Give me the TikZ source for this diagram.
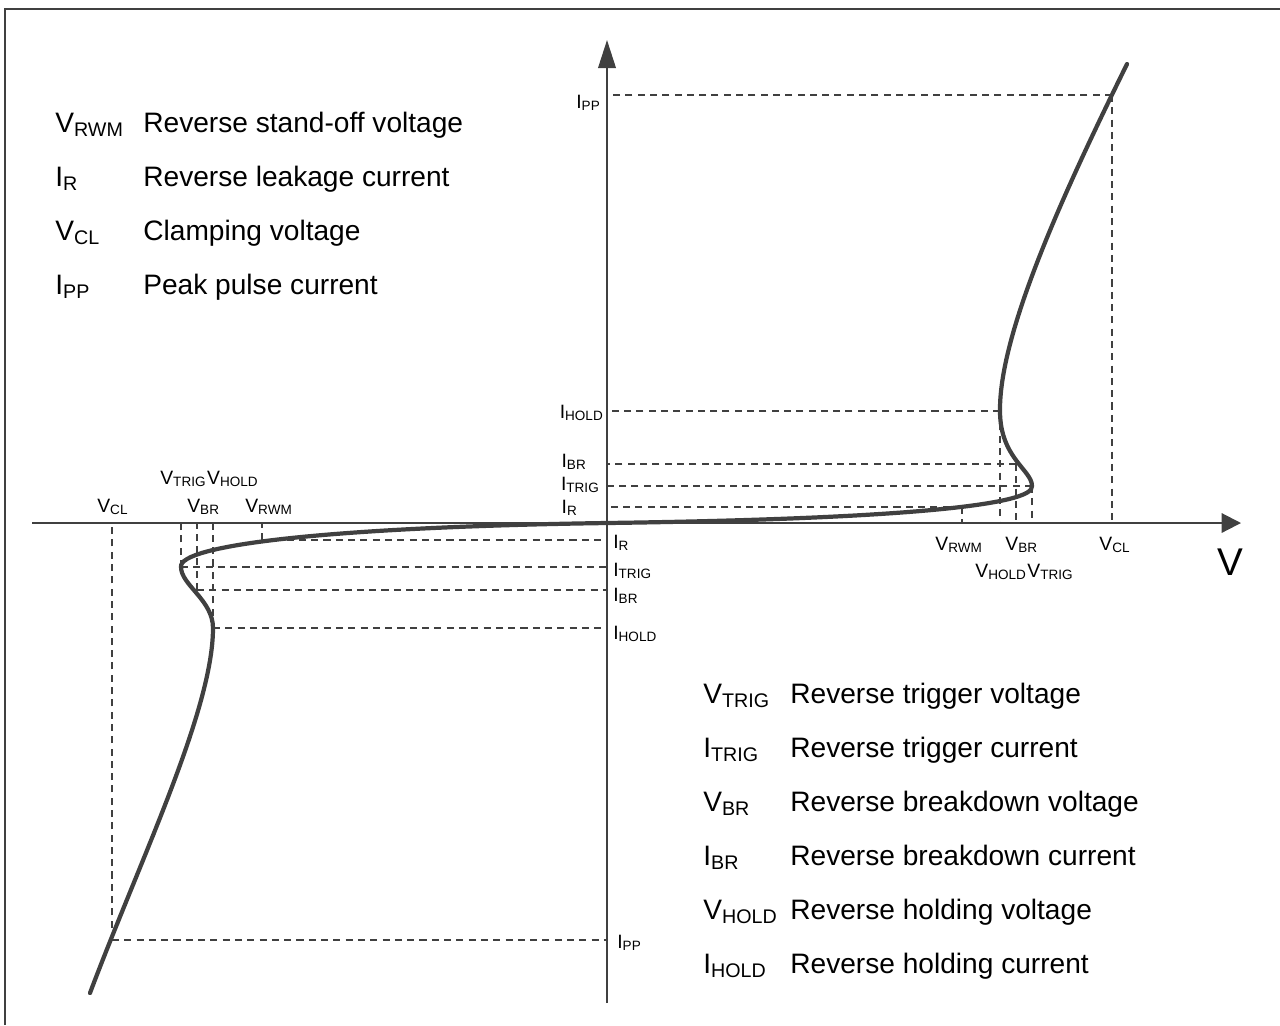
\documentclass[tikz,border=0pt]{standalone}
\usepackage{fontspec}
\setmainfont{Liberation Sans}
\usetikzlibrary{arrows.meta}
\definecolor{ink}{HTML}{404040}
\newcommand{\sy}[2]{#1\textsubscript{#2}}
\begin{document}
\begin{tikzpicture}[x=0.02cm,y=-0.02cm,
  frameline/.style={draw=ink,line width=0.8pt},
  axis/.style={draw=ink,line width=1.2pt},
  guide/.style={draw=ink,line width=0.9pt,dash pattern=on 4pt off 3pt},
  curve/.style={draw=ink,line width=2.4pt,line cap=round},
  lab/.style={font=\fontsize{11}{13}\selectfont,inner sep=0pt},
  big/.style={font=\fontsize{16}{19}\selectfont,inner sep=0pt,anchor=base west},
]
\useasboundingbox (0,0) rectangle (1280,1025);
% frame
\coordinate (fa) at (5,1025);
\coordinate (fb) at (5,9);
\coordinate (fc) at (1280,9);
\draw[frameline] (fa) -- (fb) -- (fc);

% key points
\coordinate (O) at (607,523);
\coordinate (xs) at (32,523);
\coordinate (xe) at (1241,523);
\coordinate (ys) at (607,1003);
\coordinate (ye) at (607,40);

\coordinate (rTop) at (1127,64);
\coordinate (rPP) at (1112,95);
\coordinate (rHOLD) at (1000,411);
\coordinate (rBR) at (1016,464);
\coordinate (rTRIG) at (1032,486);
\coordinate (rR) at (962,507);

\coordinate (lBot) at (90,993);
\coordinate (lPP) at (112,940);
\coordinate (lHOLD) at (213,628);
\coordinate (lBR) at (197,590);
\coordinate (lTRIG) at (181,567);
\coordinate (lR) at (262,540);

% dashed guides (right)
\foreach \p in {rPP,rHOLD,rBR,rTRIG,rR}{
  \draw[guide] (\p) -- (\p |- O);
  \draw[guide] (\p) -- (\p -| O);
}
% dashed guides (left)
\foreach \p in {lPP,lHOLD,lBR,lTRIG,lR}{
  \draw[guide] (\p) -- (\p |- O);
  \draw[guide] (\p) -- (\p -| O);
}

% axes
\draw[axis,-{Triangle[length=11pt,width=11pt]}] (xs) -- (xe);
\draw[axis,-{Triangle[length=16pt,width=10pt]}] (ys) -- (ye);

% characteristic curve
\draw[curve] (O) .. controls (900,519) and (1035,505) .. (rTRIG)
  .. controls (1032,470) and (1000,458) .. (rHOLD)
  .. controls (999,330) and (1070,180) .. (rTop);
\draw[curve] (O) .. controls (330,527) and (178,545) .. (lTRIG)
  .. controls (181,585) and (213,600) .. (lHOLD)
  .. controls (213,710) and (140,860) .. (lBot);

% current labels, upper left of y axis
\node[lab,anchor=base east] (tIPPa) at (601,108) {\sy{I}{PP}};
\node[lab,anchor=base east] (tIHOLDa) at (604,418) {\sy{I}{HOLD}};
\node[lab,anchor=base east] (tIBRa) at (587,467) {\sy{I}{BR}};
\node[lab,anchor=base east] (tITRIGa) at (600,490) {\sy{I}{TRIG}};
\node[lab,anchor=base east] (tIRa) at (578,513) {\sy{I}{R}};

% current labels, lower right of y axis
\node[lab,anchor=base west] (tIRb) at (613,548) {\sy{I}{R}};
\node[lab,anchor=base west] (tITRIGb) at (613,576) {\sy{I}{TRIG}};
\node[lab,anchor=base west] (tIBRb) at (613,601) {\sy{I}{BR}};
\node[lab,anchor=base west] (tIHOLDb) at (613,639) {\sy{I}{HOLD}};
\node[lab,anchor=base west] (tIPPb) at (617,948) {\sy{I}{PP}};

% voltage labels, right
\node[lab,anchor=base west] (tVRWMa) at (935,550) {\sy{V}{RWM}};
\node[lab,anchor=base west] (tVBRa) at (1005,550) {\sy{V}{BR}};
\node[lab,anchor=base west] (tVCLa) at (1099,550) {\sy{V}{CL}};
\node[lab,anchor=base west] (tVHOLDa) at (975,577) {\sy{V}{HOLD}};
\node[lab,anchor=base west] (tVTRIGa) at (tVHOLDa.base east) {\sy{V}{TRIG}};
\node[font=\fontsize{22}{26}\selectfont,inner sep=0pt,anchor=base west] (tV) at (1217,575) {V};

% voltage labels, left
\node[lab,anchor=base west] (tVCLb) at (97,512) {\sy{V}{CL}};
\node[lab,anchor=base west] (tVBRb) at (187,512) {\sy{V}{BR}};
\node[lab,anchor=base west] (tVRWMb) at (245,512) {\sy{V}{RWM}};
\node[lab,anchor=base west] (tVTRIGb) at (160,484) {\sy{V}{TRIG}};
\node[lab,anchor=base west] (tVHOLDb) at (tVTRIGb.base east) {\sy{V}{HOLD}};

% legend, top left
\node[big] (s1) at (55,132) {\sy{V}{RWM}};
\node[big] (d1) at (143,132) {Reverse stand-off voltage};
\node[big] (s2) at (55,186) {\sy{I}{R}};
\node[big] (d2) at (143,186) {Reverse leakage current};
\node[big] (s3) at (55,240) {\sy{V}{CL}};
\node[big] (d3) at (143,240) {Clamping voltage};
\node[big] (s4) at (55,294) {\sy{I}{PP}};
\node[big] (d4) at (143,294) {Peak pulse current};

% legend, bottom right
\node[big] (s5) at (703,703) {\sy{V}{TRIG}};
\node[big] (d5) at (790,703) {Reverse trigger voltage};
\node[big] (s6) at (703,757) {\sy{I}{TRIG}};
\node[big] (d6) at (790,757) {Reverse trigger current};
\node[big] (s7) at (703,811) {\sy{V}{BR}};
\node[big] (d7) at (790,811) {Reverse breakdown voltage};
\node[big] (s8) at (703,865) {\sy{I}{BR}};
\node[big] (d8) at (790,865) {Reverse breakdown current};
\node[big] (s9) at (703,919) {\sy{V}{HOLD}};
\node[big] (d9) at (790,919) {Reverse holding voltage};
\node[big] (s10) at (703,973) {\sy{I}{HOLD}};
\node[big] (d10) at (790,973) {Reverse holding current};
\end{tikzpicture}
\end{document}
